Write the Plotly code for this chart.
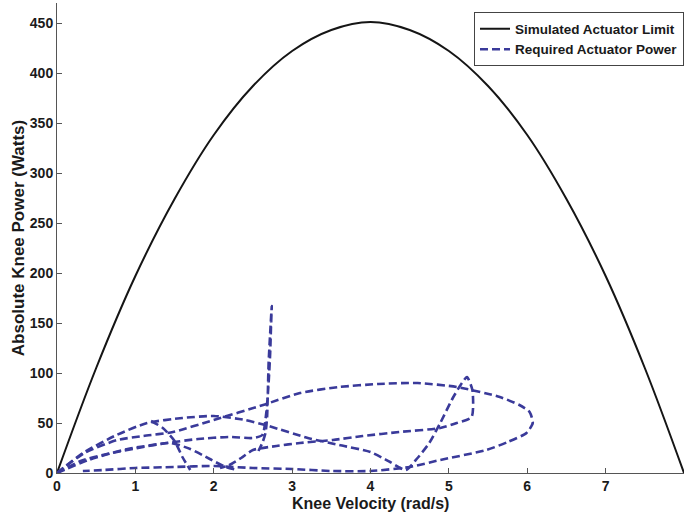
import plotly.graph_objects as go

# Simulated actuator limit
limit_v = [0, 0.5, 1, 1.5, 2, 2.5, 3, 3.5, 4, 4.5, 5, 5.5, 6, 6.5, 7, 7.5, 8]
limit_p = [0, 105, 197, 274, 338, 387, 422, 443, 451, 443, 422, 387, 338, 274, 197, 105, 0]

# Required actuator power: traced curve segments
seg1_v = [0, 0.35, 0.77, 1.1, 1.48, 2.0, 2.63, 3.1, 3.6, 4.1, 4.6, 5.1, 5.65, 5.9, 6.03, 6.07, 5.99, 5.75, 5.48, 4.89, 4.5, 4.0, 3.5, 3.0, 2.5, 2.0, 1.5, 1.0, 0.6, 0.33]
seg1_p = [0, 20, 33, 37, 41, 53, 68, 80, 86, 89, 90, 86, 76, 68, 61, 50, 40, 31, 23, 13, 6, 2, 2, 4, 5, 7, 6, 5, 3, 2]

seg2_v = [0, 0.33, 0.76, 1.15, 1.6, 2.0, 2.4, 2.7, 3.2, 3.6, 4.0, 4.25, 4.45, 4.6, 4.75, 4.89, 5.05, 5.15, 5.23, 5.3, 5.29, 5.1, 4.89, 4.37, 3.9, 3.52, 3.1, 2.8, 2.5, 2.35, 2.2, 2.08]
seg2_p = [0, 20, 38, 50, 55, 57, 53, 47, 35, 28, 21, 11, 3, 15, 30, 50, 75, 88, 96, 83, 56, 50, 45, 41, 37, 33, 30, 27, 23, 15, 8, 5]

seg3_v = [0, 0.4, 0.9, 1.4, 1.8, 2.2, 2.5, 2.62, 2.67, 2.70, 2.72, 2.73, 2.74, 2.72, 2.70, 2.69, 2.68, 2.66, 2.62, 2.57]
seg3_p = [0, 13, 24, 30, 34, 36, 35, 38, 60, 90, 120, 145, 167, 140, 110, 80, 55, 40, 30, 22]

seg4_v = [0, 0.3, 0.7, 1.1, 1.45, 1.7, 1.95, 2.15, 2.3]
seg4_p = [0, 12, 20, 26, 30, 24, 14, 6, 3]

seg5_v = [1.2, 1.35, 1.5, 1.6, 1.7]
seg5_p = [52, 45, 32, 16, 3]

segments = [(seg1_v, seg1_p), (seg2_v, seg2_p), (seg3_v, seg3_p), (seg4_v, seg4_p), (seg5_v, seg5_p)]
req_v, req_p = [], []
for sv, sp in segments:
    req_v += list(sv) + [None]
    req_p += list(sp) + [None]

x_ticks = [0, 1, 2, 3, 4, 5, 6, 7, 8]
y_ticks = [0, 50, 100, 150, 200, 250, 300, 350, 400, 450]

fig = go.Figure()
fig.add_trace(go.Scatter(x=limit_v, y=limit_p, mode="lines", name="Simulated Actuator Limit",
                         line=dict(color="#151515", width=2, shape="spline")))
fig.add_trace(go.Scatter(x=req_v, y=req_p, mode="lines", name="Required Actuator Power",
                         connectgaps=False,
                         line=dict(color="#3a3a9a", width=2.6, dash="8px,4px", shape="spline", smoothing=0.6)))

font = "Liberation Sans, Arial, sans-serif"
fig.update_layout(
    width=686, height=518,
    margin=dict(l=57, r=2, t=3, b=45),
    paper_bgcolor="white", plot_bgcolor="white",
    font=dict(family=font, size=14, color="#1a1a1a"),
    showlegend=True,
    legend=dict(x=1.0, xanchor="right", y=0.98, yanchor="top",
                bordercolor="#444", borderwidth=1, bgcolor="white",
                font=dict(size=13.5, color="#1a1a1a", weight="bold"), tracegroupgap=0),
    xaxis=dict(range=[0, 8], tickvals=x_ticks, ticks="inside", ticklen=5, tickcolor="#555",
               tickfont=dict(size=14, weight="bold"),
               showline=True, linecolor="#555", linewidth=1, mirror=False, showgrid=False, zeroline=False),
    yaxis=dict(range=[0, 470], tickvals=y_ticks, ticks="inside", ticklen=5, tickcolor="#555",
               tickfont=dict(size=14, weight="bold"),
               showline=True, linecolor="#555", linewidth=1, mirror=False, showgrid=False, zeroline=False,
               title=dict(text="Absolute Knee Power (Watts)", font=dict(size=17, weight="bold"), standoff=0)),
    annotations=[dict(text="Knee Velocity (rad/s)", xref="paper", yref="paper", x=0.5, y=-0.065,
                      xanchor="center", yanchor="middle", showarrow=False,
                      font=dict(size=16, weight="bold", color="#1a1a1a"))],
)

fig.write_html("out.html")
